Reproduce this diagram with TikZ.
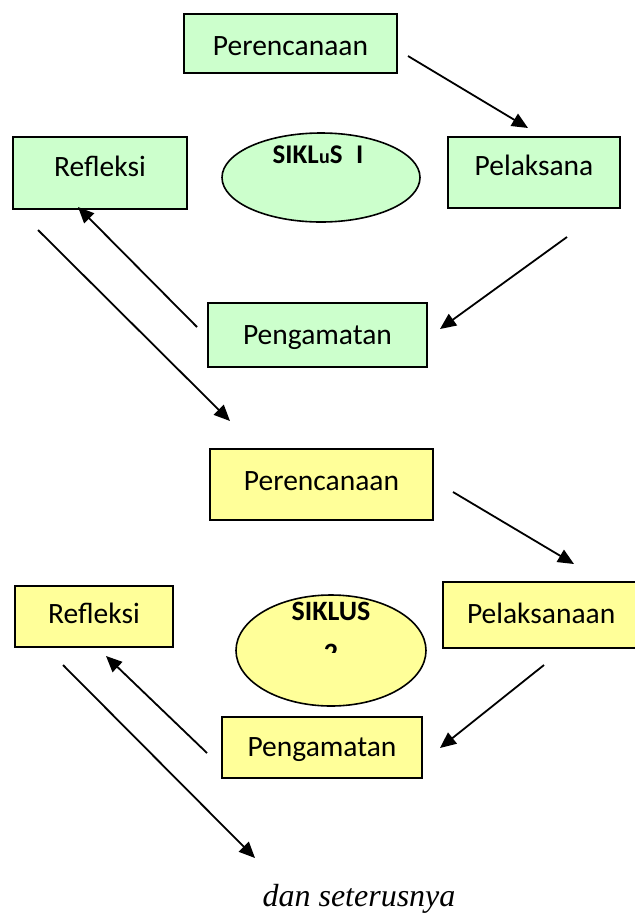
\documentclass[tikz,border=0pt]{standalone}
\usepackage{fontspec}
\setmainfont{Carlito}
\newfontfamily\timesit{Liberation Serif}
\usetikzlibrary{arrows.meta,shapes.geometric}
\definecolor{boxgreen}{HTML}{CCFFCC}
\definecolor{boxyellow}{HTML}{FFFF99}
\tikzset{
  stagebox/.style={draw=black, line width=2pt, rectangle, inner sep=0pt, font=\fontsize{29.5}{31}\selectfont, anchor=center},
  gbox/.style={stagebox, fill=boxgreen},
  ybox/.style={stagebox, fill=boxyellow},
  tpos/.style={text height=30pt, text depth=#1},
  cyc/.style={draw=black, line width=1.6pt, ellipse, inner sep=0pt},
  flow/.style={line width=1.8pt, -{Triangle[length=16pt,width=14pt]}},
}
\begin{document}
\begin{tikzpicture}[x=1pt,y=-1pt]
\useasboundingbox (0,0) rectangle (635,914);
% ---------- cycle 1 ----------
\node[gbox, tpos=7pt, minimum width=213pt, minimum height=59pt] (p1) at (290.5,43.5) {Perencanaan};
\node[gbox, tpos=24pt, minimum width=174pt, minimum height=72pt] (r1) at (100,173) {Refleksi};
\node[gbox, tpos=24pt, minimum width=172pt, minimum height=71pt] (l1) at (534,172.5) {Pelaksana};
\node[gbox, tpos=11pt, minimum width=219pt, minimum height=64pt] (g1) at (317.5,335) {Pengamatan};
\node[cyc, fill=boxgreen, minimum width=198pt, minimum height=89pt] (e1) at (321,177.5) {};
\node[font=\fontsize{27}{29}\selectfont\bfseries] (t1) at (318,155) {SIKL\kern0.5pt{\fontsize{20}{21}\selectfont u}S\enspace I};
% ---------- cycle 2 ----------
\node[ybox, tpos=19pt, minimum width=223pt, minimum height=71pt] (p2) at (321.5,484.5) {Perencanaan};
\node[ybox, tpos=17pt, minimum width=158pt, minimum height=61pt] (r2) at (94,616.5) {Refleksi};
\node[ybox, tpos=14pt, minimum width=196pt, minimum height=66pt, text width=196pt, align=left] (l2) at (541,615) {\hspace{24pt}Pelaksanaan};
\node[ybox, tpos=13pt, minimum width=200pt, minimum height=61pt] (g2) at (322,747.5) {Pengamatan};
\node[cyc, fill=boxyellow, minimum width=190pt, minimum height=111pt] (e2) at (331,650.5) {};
\node[font=\fontsize{28}{30}\selectfont\bfseries] (t2) at (331,611) {SIKLUS};
\begin{scope}
  \clip (300,630) rectangle (360,652);
  \node[font=\fontsize{28}{30}\selectfont\bfseries] (n2) at (331,653) {2};
\end{scope}
% ---------- free arrow ends ----------
\coordinate (a1s) at (408,56);
\coordinate (a1e) at (528,128);
\coordinate (a2s) at (567,237);
\coordinate (a2e) at (440,329);
\coordinate (a3s) at (197,327);
\coordinate (a3e) at (78,207);
\coordinate (a4s) at (38,230);
\coordinate (a4e) at (230,421);
\coordinate (b1s) at (453,492);
\coordinate (b1e) at (574,564);
\coordinate (b2s) at (544,665);
\coordinate (b2e) at (440,748);
\coordinate (b3s) at (207,753);
\coordinate (b3e) at (106,656);
\coordinate (b4s) at (63,665);
\coordinate (b4e) at (255,858);
\draw[flow] (a1s) -- (a1e);
\draw[flow] (a2s) -- (a2e);
\draw[flow] (a3s) -- (a3e);
\draw[flow] (a4s) -- (a4e);
\draw[flow] (b1s) -- (b1e);
\draw[flow] (b2s) -- (b2e);
\draw[flow] (b3s) -- (b3e);
\draw[flow] (b4s) -- (b4e);
% ---------- footer ----------
\node[font=\timesit\itshape\fontsize{32}{34}\selectfont] (dan) at (359,899) {dan seterusnya};
\end{tikzpicture}
\end{document}
